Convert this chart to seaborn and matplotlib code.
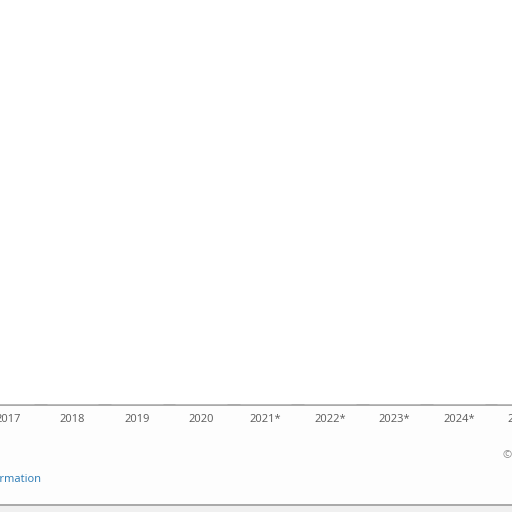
import matplotlib
matplotlib.use("Agg")
import matplotlib.pyplot as plt
import seaborn as sns
import pandas as pd
from matplotlib.patches import Rectangle

years = ["2017", "2018", "2019", "2020", "2021*", "2022*", "2023*", "2024*", "2025*"]
values = [0, 0, 0, 0, 0, 0, 0, 0, 0]

sns.set_style("white")
plt.rcParams['font.family'] = ['Open Sans', 'DejaVu Sans']

df = pd.DataFrame({"year": years, "value": values})

fig = plt.figure(figsize=(5.12, 5.12), dpi=100)
fig.patch.set_facecolor("white")

# footer box (pixel coords -> figure fraction)
def fy(px):
    return 1 - px / 512

box = Rectangle((-0.01, fy(504.5)), 1.02, fy(404.5) - fy(504.5),
                transform=fig.transFigure, facecolor="#fdfdfd",
                edgecolor="#9a9a9a", linewidth=1.2, zorder=-2)
fig.patches.append(box)
shadow = Rectangle((-0.01, 0), 1.02, fy(505.5), transform=fig.transFigure,
                   facecolor="#f0f0f0", edgecolor="none", zorder=-2)
fig.patches.append(shadow)

# category spacing ~64.4 px, first category at x=8 px; axes runs past the right edge
step = 64.4
x0, x1 = -0.124, 8.3
ax = fig.add_axes([0, fy(404.5), (x1 - x0) * step / 512, fy(0) - fy(404.5)])
ax.set_zorder(2)
sns.barplot(data=df, x="year", y="value", color="#0770cf", ax=ax)
ax.set_xlim(x0, x1)
ax.set_ylim(0, 1)
ax.set_yticks([])
ax.set_xlabel("")
ax.set_ylabel("")
ax.patch.set_alpha(0)
for s in ax.spines.values():
    s.set_visible(False)
ax.tick_params(axis="x", length=0, pad=7, labelsize=8, labelcolor="#5a5a5a")

fig.text(41 / 512, fy(479), "Additional Information", ha="right", va="center",
         fontsize=8, color="#2a7ab5", zorder=3)
fig.text(503 / 512, fy(455), "© Statista 2021", ha="left", va="center",
         fontsize=8, color="#888888", zorder=3)

fig.savefig("out.png", dpi=100)
